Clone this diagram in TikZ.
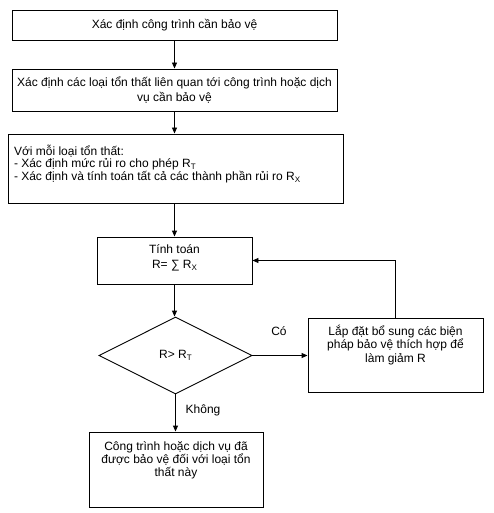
\documentclass[tikz,border=0pt]{standalone}
\usepackage{fontspec}
\setmainfont{Liberation Sans}
\usetikzlibrary{shapes.geometric,arrows.meta}
\newcommand{\lsub}[1]{\raisebox{-0.3ex}{\fontsize{8}{8}\selectfont #1}}
\newcommand{\tbox}[5]{\parbox[c][#1pt][t]{#2pt}{\vspace*{#3pt}\fontsize{12}{#4pt}\selectfont #5}}
\begin{document}
\begin{tikzpicture}[x=1pt,y=-1pt,
  font=\fontsize{12}{15}\selectfont,
  box/.style={draw, line width=0.9pt, inner sep=0pt, align=center},
  arr/.style={-{Triangle[length=6pt,width=5pt]}, line width=0.9pt},
  lbl/.style={inner sep=0pt}]
\useasboundingbox (0,0) rectangle (494,513);
\node[box, minimum width=325pt, minimum height=30pt] (b1) at (174.5,25) {Xác định công trình cần bảo vệ};
\node[box, minimum width=325pt, minimum height=42pt] (b2) at (174.5,90) {Xác định các loại tổn thất liên quan tới công trình hoặc dịch\\vụ cần bảo vệ};
\node[box] (b3) at (175.5,168.5) {\tbox{69}{335}{11}{12.5}{\raggedright\leftskip=6pt Với mỗi loại tổn thất:\\- Xác định mức rủi ro cho phép R\lsub{T}\\- Xác định và tính toán tất cả các thành phần rủi ro R\lsub{X}}};
\node[box] (b4) at (174.5,260.5) {\tbox{47}{155}{8}{15}{\centering Tính toán\\R= ∑ R\lsub{X}}};
\node[draw, line width=0.9pt, diamond, inner sep=0pt, minimum width=153pt, minimum height=77pt] (d) at (175.5,355.5) {R> R\lsub{T}};
\node[box] (b5) at (395.5,355) {\tbox{74}{175}{7}{13.5}{\centering Lắp đặt bổ sung các biện\\pháp bảo vệ thích hợp để\\làm giảm R}};
\node[box] (b6) at (176,469.5) {\tbox{75}{174}{10}{13}{\centering Công trình hoặc dịch vụ đã\\được bảo vệ đối với loại tổn\\thất này}};
\node[lbl] (co) at (279,331) {Có};
\node[lbl] (kh) at (203,410) {Không};
\draw[arr] (b1.south) -- (b1.south |- b2.north);
\draw[arr] (b2.south) -- (b2.south |- b3.north);
\draw[arr] (b3.south -| b4.north) -- (b4.north);
\draw[arr] (b4.south) -- (b4.south |- d.north);
\draw[arr] (d.east) -- (d.east -| b5.west);
\draw[arr] (b5.north) |- (b4.east);
\draw[arr] (d.south) -- (d.south |- b6.north);
\end{tikzpicture}
\end{document}
